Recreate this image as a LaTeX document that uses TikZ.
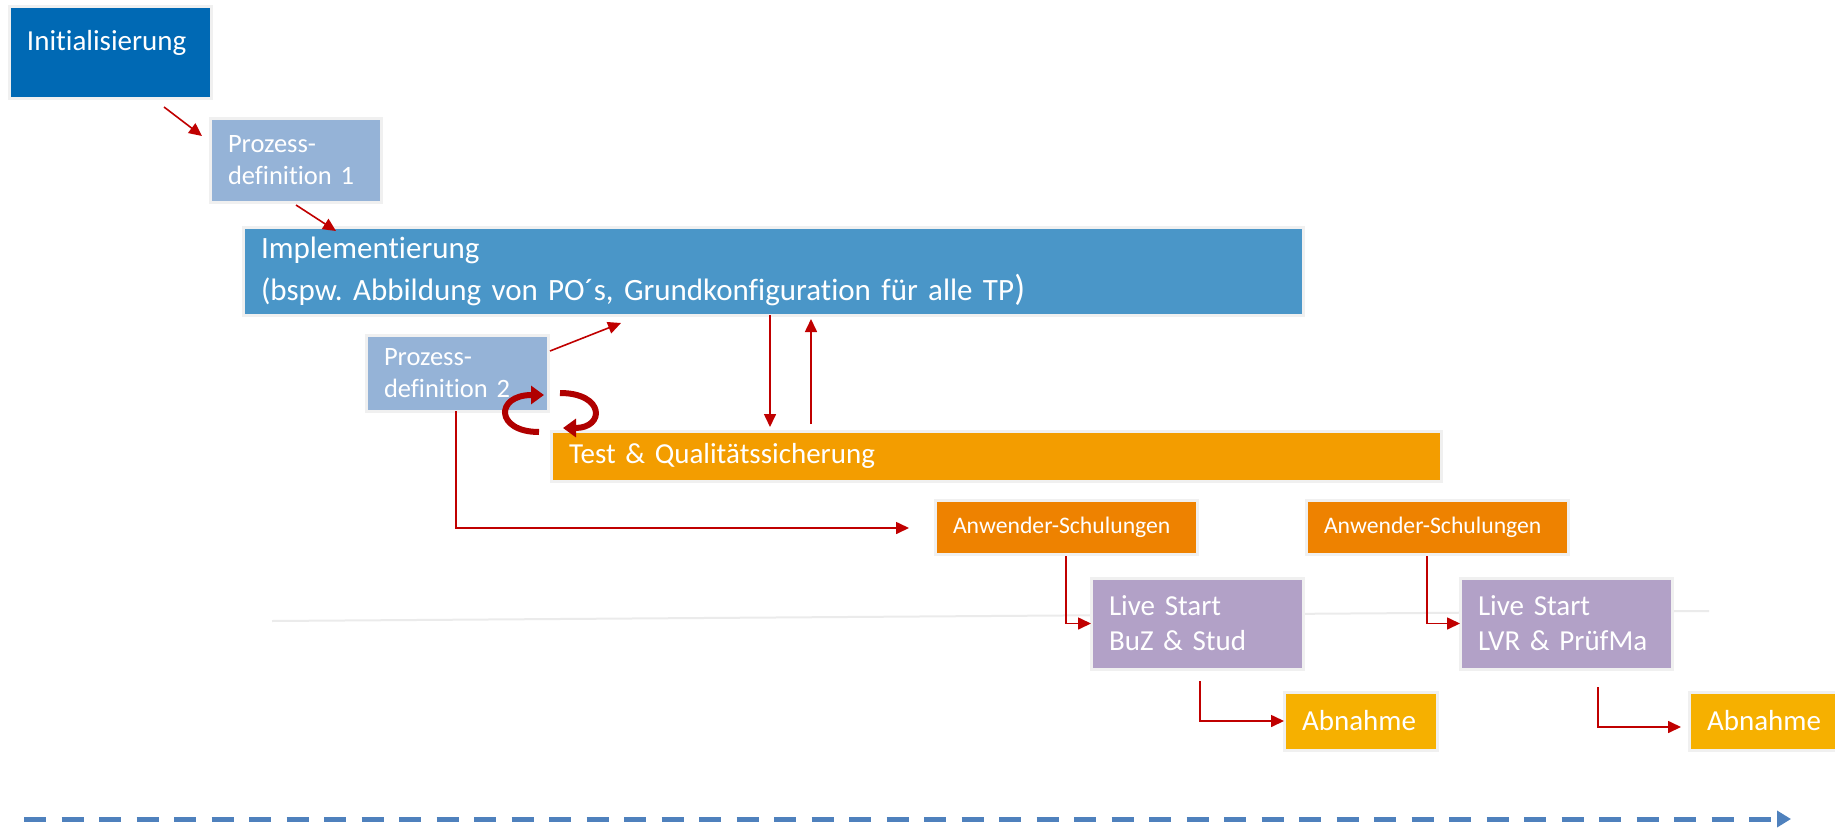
\documentclass[tikz,border=0pt]{standalone}
\usepackage{fontspec}
\setmainfont{Carlito}[Ligatures=CommonOff]
\frenchspacing
\usetikzlibrary{arrows.meta,calc}

\definecolor{initblue}{HTML}{0069B4}
\definecolor{pdblue}{HTML}{95B3D7}
\definecolor{implblue}{HTML}{4A96C8}
\definecolor{testorange}{HTML}{F39D00}
\definecolor{anworange}{HTML}{EE8200}
\definecolor{livepurple}{HTML}{B2A1C7}
\definecolor{abnyellow}{HTML}{F6B000}
\definecolor{arrred}{HTML}{C00000}
\definecolor{ringred}{HTML}{B00000}
\definecolor{timeblue}{HTML}{4F81BD}
\definecolor{boxline}{HTML}{F0F0F0}
\definecolor{faintgray}{HTML}{EBEBEB}

\tikzset{
  box/.style={draw=boxline, line width=3pt, anchor=north west, outer sep=0pt,
    inner xsep=18pt, inner ysep=0pt, text=white, align=left},
  arr/.style={draw=arrred, line width=1.6pt, -{Triangle[length=13pt,width=12pt]}},
  ring/.style={draw=ringred, line width=6pt, -{Triangle[length=13pt,width=18pt]}},
  timeline/.style={draw=timeblue, line width=5pt, dash pattern=on 22pt off 15.5pt,
    -{Triangle[length=14pt,width=16pt]}}
}

\begin{document}
\begin{tikzpicture}[x=1pt,y=-1pt]
  \useasboundingbox (0,0) rectangle (1835,829);

  % faint line behind the live starts
  \coordinate (lineL) at (272,621);
  \coordinate (lineR) at (1709,611);
  \draw [faintgray, line width=2pt] (lineL) -- (lineR);

  \node [box, fill=initblue, text width=166pt, text height=44pt, text depth=48pt,
    font=\fontsize{29}{35}\selectfont] (init) at (9,7) {Initialisierung};
  \node [box, fill=pdblue, text width=135pt, minimum height=83pt,
    font=\fontsize{26.5}{32}\selectfont] (pd1) at (210,119) {Prozess-\\definition 1};
  \node [box, fill=implblue, text width=1024pt, minimum height=88pt,
    font=\fontsize{31}{42}\selectfont] (impl) at (243,227)
    {Implementierung\\(bspw. Abbildung von PO´s, Grundkonfiguration für alle TP{\fontsize{36}{36}\selectfont)}};
  \node [box, fill=pdblue, text width=146pt, minimum height=76pt,
    font=\fontsize{26.5}{32}\selectfont] (pd2) at (366,335) {Prozess-\\definition 2};
  \node [box, fill=testorange, text width=854pt, minimum height=50pt,
    font=\fontsize{29}{35}\selectfont] (test) at (551,431) {Test \& Qualitätssicherung};
  \node [box, fill=anworange, text width=226pt, minimum height=54pt,
    font=\fontsize{23.7}{28}\selectfont] (anw1) at (935,500) {Anwender-Schulungen};
  \node [box, fill=anworange, text width=226pt, minimum height=54pt,
    font=\fontsize{23.7}{28}\selectfont] (anw2) at (1306,500) {Anwender-Schulungen};
  \node [box, fill=livepurple, text width=176pt, minimum height=91pt,
    font=\fontsize{29}{35}\selectfont] (live1) at (1091,578) {Live Start\\BuZ \& Stud};
  \node [box, fill=livepurple, text width=176pt, minimum height=91pt,
    font=\fontsize{29}{35}\selectfont] (live2) at (1460,578) {Live Start\\LVR \& PrüfMa};
  \node [box, fill=abnyellow, text width=117pt, minimum height=58pt,
    font=\fontsize{29}{35}\selectfont] (abn1) at (1284,692) {Abnahme};
  \node [box, fill=abnyellow, text width=117pt, minimum height=58pt,
    font=\fontsize{29}{35}\selectfont] (abn2) at (1689,692) {Abnahme};

  % connectors
  \draw [arr] ($(init.south east)+(-47,8)$) -- ($(pd1.north west)+(-8,17)$);
  \draw [arr] ($(pd1.south west)+(86,3)$) -- ($(impl.north west)+(93,4)$);
  \draw [arr] ($(pd2.north east)+(2,16)$) -- ($(impl.south west)+(378,8)$);
  \draw [arr] ($(impl.south west)+(527,0)$) -- ($(test.north west)+(219,-4)$);
  \draw [arr] ($(test.north west)+(260,-7)$) -- ($(impl.south west)+(568,4)$);
  \draw [arr] ($(pd2.south west)+(90,0)$) |- ($(anw1.west)+(-26,1)$);
  \draw [arr] ($(anw1.south west)+(131,2)$) |- (live1.west);
  \draw [arr] ($(anw2.south west)+(121,2)$) |- (live2.west);
  \draw [arr] ($(live1.south west)+(109,12)$) |- (abn1.west);
  \draw [arr] ($(live2.south west)+(138,18)$) |- ($(abn2.west)+(-8,6)$);

  % cycle between pd2 and test
  \draw [ring] ($(test.north west)+(-12,1)$) .. controls (495,432) and (495,395) .. ($(pd2.south east)+(-4,-16)$);
  \draw [ring] ($(pd2.south east)+(12,-18)$) .. controls (605,393) and (605,428) .. ($(test.north west)+(12,-3)$);

  % time axis
  \coordinate (tstart) at (24,819);
  \coordinate (tend) at (1791,819);
  \draw [timeline] (tstart) -- (tend);
\end{tikzpicture}
\end{document}
